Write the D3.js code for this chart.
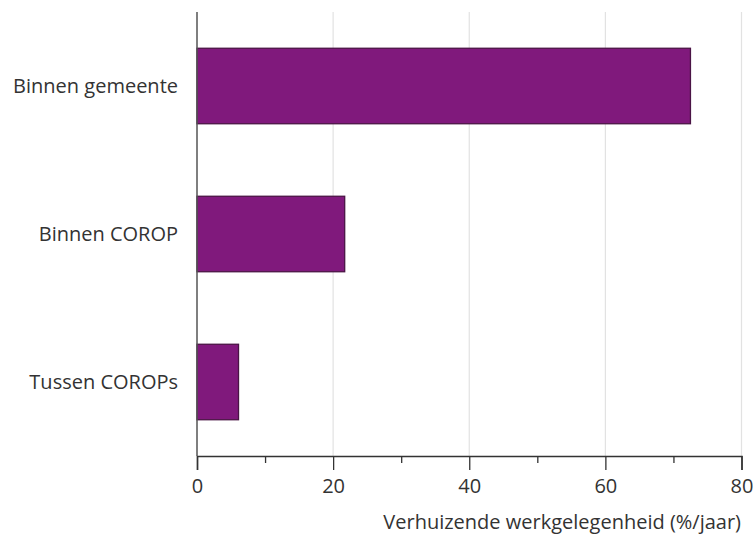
<!DOCTYPE html>
<html>
<head>
<meta charset="utf-8">
<script src="https://cdn.jsdelivr.net/npm/d3@7"></script>
<style>
  body { margin: 0; background: #fff; }
  svg text { font-family: "Open Sans", sans-serif; fill: #333; }
</style>
</head>
<body>
<div id="chart"></div>
<script>
// data
var categories = ["Binnen gemeente", "Binnen COROP", "Tussen COROPs"];
var values = [72.5, 21.7, 6.1];
var majorTicks = [0, 20, 40, 60, 80];
var minorTicks = [10, 30, 50, 70];
var axisTitle = "Verhuizende werkgelegenheid (%/jaar)";

var W = 753, H = 535;
var margin = {top: 12, right: 11.5, bottom: 79, left: 197};
var width = W - margin.left - margin.right,
    height = H - margin.top - margin.bottom;

var svg = d3.select("#chart").append("svg")
  .attr("width", W)
  .attr("height", H);

var g = svg.append("g")
  .attr("transform", "translate(" + margin.left + "," + margin.top + ")");

var x = d3.scaleLinear().domain([0, 80]).range([0, width]);
var y = d3.scaleBand().domain(categories).range([0, height]).paddingInner(0.49).paddingOuter(0.245);

// gridlines
g.selectAll("line.grid")
  .data(majorTicks.slice(1))
  .enter().append("line")
  .attr("class", "grid")
  .attr("x1", function(d) { return x(d); })
  .attr("x2", function(d) { return x(d); })
  .attr("y1", 0)
  .attr("y2", height)
  .attr("stroke", "#e2e2e2")
  .attr("stroke-width", 1.2);

// bars
g.selectAll("rect.bar")
  .data(values)
  .enter().append("rect")
  .attr("class", "bar")
  .attr("x", x(0))
  .attr("y", function(d, i) { return y(categories[i]); })
  .attr("width", function(d) { return x(d) - x(0); })
  .attr("height", y.bandwidth())
  .attr("fill", "#80197c")
  .attr("stroke", "#4a1445")
  .attr("stroke-width", 1.3);

// x axis
var xAxis = g.append("g")
  .attr("transform", "translate(0," + height + ")")
  .call(d3.axisBottom(x).tickValues(majorTicks).tickSize(14).tickPadding(9));
xAxis.select(".domain").attr("stroke", "#333").attr("stroke-width", 1.5);
xAxis.selectAll(".tick line").attr("stroke", "#333").attr("stroke-width", 1.3);
xAxis.selectAll(".tick text").attr("font-size", "20px").style("font-family", "\"Open Sans\", sans-serif").attr("fill", "#333");

var minor = g.append("g")
  .attr("transform", "translate(0," + height + ")")
  .call(d3.axisBottom(x).tickValues(minorTicks).tickSize(7).tickFormat(""));
minor.select(".domain").remove();
minor.selectAll(".tick line").attr("stroke", "#333").attr("stroke-width", 1.3);

// y axis line
g.append("line")
  .attr("x1", 0).attr("x2", 0)
  .attr("y1", 0).attr("y2", height)
  .attr("stroke", "#555")
  .attr("stroke-width", 1.5);

// category labels
g.selectAll("text.cat")
  .data(categories)
  .enter().append("text")
  .attr("class", "cat")
  .attr("x", -19)
  .attr("y", function(d) { return y(d) + y.bandwidth() / 2; })
  .attr("dy", "0.35em")
  .attr("text-anchor", "end")
  .attr("font-size", "20px")
  .text(function(d) { return d; });

// axis title
svg.append("text")
  .attr("x", 741)
  .attr("y", 529)
  .attr("text-anchor", "end")
  .attr("font-size", "20px")
  .text(axisTitle);
</script>
</body>
</html>
